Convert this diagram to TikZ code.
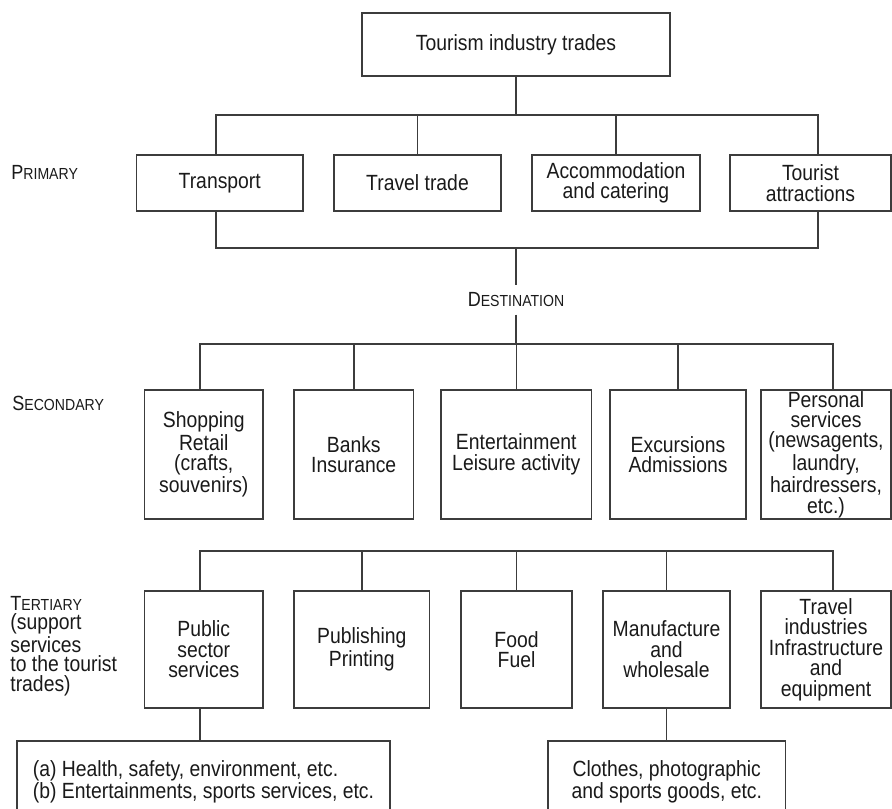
\documentclass[tikz,border=0pt]{standalone}
\usepackage{fontspec}
\setmainfont{Liberation Sans}[FakeStretch=0.88]
\definecolor{linegray}{HTML}{3C3C3C}
\definecolor{inkgray}{HTML}{1A1A1A}
\newcommand{\levelsc}[2]{{\fontsize{10.25pt}{10pt}\selectfont #1}{\fontsize{8pt}{8pt}\selectfont #2}}

\begin{document}
\begin{tikzpicture}[x=0.5pt, y=-0.5pt,
  tradebox/.style={draw=linegray, line width=0.75pt, align=center, inner sep=0pt, text=inkgray, font=\fontsize{11pt}{10.2pt}\selectfont},
  boxsize/.style 2 args={minimum width=#1*0.5pt, minimum height=#2*0.5pt},
  levellabel/.style={inner sep=0pt, text=inkgray, align=left, font=\fontsize{11pt}{9.75pt}\selectfont},
  conn/.style={draw=linegray, line width=0.75pt}]
  \useasboundingbox (0,0) rectangle (892,808);
  \fill[white] (0,0) rectangle (892,808);

  \node[tradebox, boxsize={308}{63}] (trades) at (516,44.5) {Tourism industry trades};

  \node[levellabel, anchor=west] (primary) at (11,172) {\levelsc{P}{RIMARY}};
  \node[tradebox, boxsize={166.5}{56}] (transport) at (219.75,183) {Transport};
  \node[tradebox, boxsize={167}{56}] (travel) at (417.5,183) {Travel trade};
  \node[tradebox, boxsize={168}{56}] (accom) at (616,183) {Accommodation\\and catering};
  \node[tradebox, boxsize={161}{56}] (attract) at (810.5,183) {Tourist\\attractions};

  \node[levellabel, inner sep=3.5pt] (destination) at (516,300) {\levelsc{D}{ESTINATION}};

  \node[levellabel, anchor=west] (secondary) at (12,403) {\levelsc{S}{ECONDARY}};
  \node[tradebox, boxsize={118.5}{129}] (shopping) at (203.75,454.5) {Shopping\\Retail\\(crafts,\\souvenirs)};
  \node[tradebox, boxsize={119.5}{129}] (banks) at (353.75,454.5) {Banks\\Insurance};
  \node[tradebox, boxsize={150.5}{129}] (leisure) at (516.25,454.5) {Entertainment\\Leisure activity};
  \node[tradebox, boxsize={136}{129}] (excursions) at (678,454.5) {Excursions\\Admissions};
  \node[tradebox, boxsize={130}{129}] (personal) at (826,454.5) {Personal\\services\\(newsagents,\\laundry,\\hairdressers,\\etc.)};

  \node[levellabel, anchor=north west] (tertiary) at (10,595.5) {\levelsc{T}{ERTIARY}\\(support\\services\\to the tourist\\trades)};
  \node[tradebox, boxsize={118.5}{117}] (public) at (203.75,649.5) {Public\\sector\\services};
  \node[tradebox, boxsize={135.5}{117}] (publishing) at (361.75,649.5) {Publishing\\Printing};
  \node[tradebox, boxsize={111}{117}] (food) at (516.5,649.5) {Food\\Fuel};
  \node[tradebox, boxsize={127}{117}] (manufacture) at (666.5,649.5) {Manufacture\\and\\wholesale};
  \node[tradebox, boxsize={130}{117}] (infra) at (826,649.5) {Travel\\industries\\Infrastructure\\and\\equipment};

  \begin{scope}
    \clip (0,0) rectangle (892,808);
    \node[tradebox, align=left, boxsize={373}{82}] (health) at (203.5,782) {(a) Health, safety, environment, etc.\\(b) Entertainments, sports services, etc.};
    \node[tradebox, boxsize={237.5}{82}] (goods) at (666.75,782) {Clothes, photographic\\and sports goods, etc.};
  \end{scope}

  \coordinate (upbus) at (516,115);
  \coordinate (downbus) at (516,248);
  \coordinate (secbus) at (516,344);
  \coordinate (terbus) at (516,551);

  \draw[conn] (trades.south) -- (upbus);
  \draw[conn] ([xshift=-2pt]transport.north) |- (upbus) -| ([xshift=3.75pt]attract.north);
  \foreach \n in {travel, accom}
    \draw[conn] (\n.north) -- (\n.north |- upbus);
  \draw[conn] ([xshift=-2pt]transport.south) |- (downbus) -| ([xshift=3.75pt]attract.south);
  \draw[conn] (downbus) -- (destination.north);
  \draw[conn] (destination.south) -- (secbus);
  \draw[conn] ([xshift=-2pt]shopping.north) |- (secbus) -| ([xshift=3.5pt]personal.north);
  \foreach \n in {banks, leisure, excursions}
    \draw[conn] (\n.north) -- (\n.north |- secbus);
  \draw[conn] ([xshift=-2pt]public.north) |- (terbus) -| ([xshift=3.5pt]infra.north);
  \foreach \n in {publishing, food, manufacture}
    \draw[conn] (\n.north) -- (\n.north |- terbus);
  \draw[conn] ([xshift=-2pt]public.south) -- ([xshift=-2pt]public.south |- health.north);
  \draw[conn] (manufacture.south) -- (manufacture.south |- goods.north);
\end{tikzpicture}
\end{document}
